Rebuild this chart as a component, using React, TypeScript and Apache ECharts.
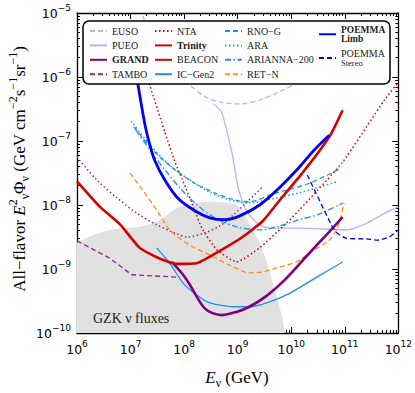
import React, { useEffect, useRef } from "react";
import * as echarts from "echarts";

const MINUS = "\u2212";

// All values are log10 readings from the picture.
// E in GeV, flux E^2 Phi in GeV cm^-2 s^-1 sr^-1
const gzkLogE = [6.0, 6.3, 6.61, 7.25, 7.55, 7.86, 8.11, 8.48, 8.98, 9.09, 9.26, 9.41, 9.56, 9.71, 9.82, 9.89];
const gzkLogF = [-8.59, -8.47, -8.39, -8.33, -8.23, -8.05, -7.98, -7.95, -8.0, -8.11, -8.36, -8.59, -8.94, -9.38, -9.72, -10.0];

const eusoLogE = [7.17, 7.36, 7.64, 8.05, 8.38, 8.66, 9.04, 9.41, 9.78, 10.06, 10.34, 10.53];
const eusoLogF = [-4.8, -5.42, -5.81, -6.09, -6.3, -6.39, -6.42, -6.36, -6.23, -6.11, -5.92, -5.73];

const pueoLogE = [8.55, 8.7, 8.89, 9.0, 9.09, 9.22, 9.41, 9.6, 10.15, 10.77, 11.05, 11.37, 11.74, 12.0];
const pueoLogF = [-6.42, -6.55, -7.17, -7.69, -7.95, -8.16, -8.31, -8.36, -8.36, -8.38, -8.39, -8.3, -8.13, -8.03];

const grandLogE = [7.77, 7.98, 8.11, 8.24, 8.38, 8.53, 8.7, 8.98, 9.22, 9.54, 9.88, 10.34, 10.71, 10.96];
const grandLogF = [-8.89, -9.09, -9.25, -9.44, -9.61, -9.69, -9.72, -9.67, -9.59, -9.42, -9.17, -8.75, -8.42, -8.19];

const tamboLogE = [6.0, 6.61, 7.02, 7.92];
const tamboLogF = [-8.56, -8.83, -9.09, -9.13];

const tamboDotLogE = [6.0, 6.37, 6.75, 7.12, 7.49, 7.86, 8.07, 8.37, 8.66, 8.94, 9.45];
const tamboDotLogF = [-7.25, -7.61, -7.89, -8.13, -8.31, -8.45, -8.5, -8.44, -8.33, -8.14, -7.73];

const ntaLogE = [7.25, 7.36, 7.64, 7.83, 8.01, 8.16, 8.33, 8.61, 8.98, 9.41, 9.84, 10.15, 10.96, 11.74, 12.0];
const ntaLogF = [-5.8, -6.13, -6.86, -7.33, -7.69, -8.0, -8.36, -8.7, -8.89, -8.67, -8.34, -8.08, -7.33, -6.36, -6.08];

const trinityLogE = [6.0, 6.43, 6.8, 7.17, 7.55, 7.86, 8.24, 8.66, 9.09, 9.47, 9.78, 10.15, 10.47, 10.75, 10.96];
const trinityLogF = [-7.63, -8.03, -8.3, -8.67, -8.84, -8.92, -8.91, -8.72, -8.5, -8.25, -7.93, -7.56, -7.22, -6.88, -6.52];

const beaconLogE: number[] = [];
const beaconLogF: number[] = [];

const icgen2LogE = [7.49, 7.73, 7.98, 8.24, 8.48, 8.91, 9.22, 9.54, 9.97, 10.47, 10.96];
const icgen2LogF = [-8.67, -8.91, -9.22, -9.41, -9.53, -9.59, -9.59, -9.53, -9.38, -9.13, -8.89];

const rnogLogE = [7.06, 7.45, 7.83, 8.2, 8.57, 8.94, 9.22, 9.65, 10.34, 10.94];
const rnogLogF = [-6.78, -7.17, -7.45, -7.66, -7.81, -7.92, -7.95, -7.83, -7.66, -7.42];

const araLogE = [7.01, 7.36, 7.73, 8.11, 8.48, 8.85, 9.22, 9.6, 10.15, 10.84];
const araLogF = [-6.69, -7.06, -7.38, -7.61, -7.8, -7.92, -7.97, -7.91, -7.81, -7.64];

const ariannaLogE = [7.1, 7.36, 7.64, 7.92, 8.2, 8.57, 8.98, 9.41, 9.78, 10.15, 10.53, 10.96];
const ariannaLogF = [-6.83, -7.14, -7.45, -7.73, -7.97, -8.2, -8.34, -8.39, -8.33, -8.23, -8.14, -7.97];

const retnLogE = [6.99, 7.23, 7.49, 7.73, 8.11, 8.48, 8.85, 9.22, 9.45, 9.78, 10.1, 10.34, 10.71, 10.86, 10.99];
const retnLogF = [-7.5, -7.77, -8.08, -8.39, -8.63, -8.78, -8.94, -9.06, -9.05, -8.97, -8.89, -8.75, -8.55, -8.36, -7.97];

const limbLogE = [7.04, 7.14, 7.27, 7.36, 7.45, 7.64, 7.88, 8.2, 8.48, 8.76, 9.04, 9.41, 9.78, 10.15, 10.43, 10.71];
const limbLogF = [-5.66, -6.13, -6.75, -7.06, -7.3, -7.61, -7.89, -8.09, -8.2, -8.23, -8.17, -8.0, -7.73, -7.41, -7.14, -6.91];

const stereoLogE = [10.3, 10.75, 10.86, 11.03, 11.4, 11.61, 11.83, 12.0];
const stereoLogF = [-7.53, -8.31, -8.44, -8.52, -8.53, -8.55, -8.5, -8.39];

// axis ticks (decade exponents)
const xDecades = [6, 7, 8, 9, 10, 11, 12];
const yDecades = [-10, -9, -8, -7, -6, -5];
const minorMultipliers = [2, 3, 4, 5, 6, 7, 8, 9];

const pts = (le: number[], lf: number[]) => le.map((e, i) => [Math.pow(10, e), Math.pow(10, lf[i])]);

const majorX = xDecades.map((d) => Math.pow(10, d));
const minorX = xDecades.slice(0, -1).flatMap((d) => minorMultipliers.map((m) => m * Math.pow(10, d)));
const majorY = yDecades.map((d) => Math.pow(10, d));
const minorY = yDecades.slice(0, -1).flatMap((d) => minorMultipliers.map((m) => m * Math.pow(10, d)));

const SERIF = "Liberation Serif";
const SANS = "DejaVu Sans";

const expFormatter = (v: number) => {
  const p = Math.round(Math.log10(v));
  return "{b|10}{e|" + (p < 0 ? MINUS + -p : String(p)) + "}";
};
const tickRich = {
  b: { fontFamily: SANS, fontSize: 12.5, color: "#000", lineHeight: 20 },
  e: { fontFamily: SANS, fontSize: 9, color: "#000", lineHeight: 8, verticalAlign: "top" },
};

function makeAxis(dim: "x" | "y", pos: string, major: boolean, labels: boolean) {
  const isX = dim === "x";
  return {
    type: "log",
    logBase: 10,
    min: isX ? 1e6 : 1e-10,
    max: isX ? 1e12 : 1e-5,
    position: pos,
    gridIndex: 0,
    silent: true,
    axisLine: { show: major, onZero: false, lineStyle: { color: "#000", width: 1.3 } },
    axisTick: {
      show: true,
      inside: true,
      length: major ? 6 : 3,
      customValues: major ? (isX ? majorX : majorY) : isX ? minorX : minorY,
      lineStyle: { color: "#000", width: 1 },
    },
    axisLabel: labels
      ? {
          show: true,
          customValues: isX ? majorX : majorY,
          formatter: expFormatter,
          rich: tickRich,
          margin: 6,
        }
      : { show: false },
    splitLine: { show: false },
    minorTick: { show: false },
    minorSplitLine: { show: false },
    axisPointer: { show: false },
  };
}

type Dash = "solid" | number[];
function line(name: string, data: number[][], color: string, width: number, type: Dash, smooth: number | boolean = false, z = 2) {
  return {
    type: "line",
    name,
    data,
    xAxisIndex: 0,
    yAxisIndex: 0,
    symbol: "none",
    showSymbol: false,
    smooth,
    silent: true,
    z,
    itemStyle: { color },
    lineStyle: { color, width, type, cap: "butt" },
  };
}

const LAV = "#b3b3fb";
const PUR = "#800080";
const PUR2 = "#902a90";
const RED = "#d40000";
const DB = "#1e8ff0";
const ORA = "#ff8c1a";
const BLUE = "#0000f5";

const DASH = [5, 3];
const DOT = [1.5, 2.5];
const DASHDOT = [6, 2.5, 1.5, 2.5];

export default function App() {
  const ref = useRef<HTMLDivElement>(null);
  useEffect(() => {
    if (!ref.current) return;
    const chart = echarts.init(ref.current, undefined, { renderer: "svg" });
    const legendBase = {
      orient: "vertical",
      selectedMode: false,
      padding: 0,
      itemWidth: 17,
      itemHeight: 10,
      itemGap: 4.4,
      z: 20,
      itemStyle: { opacity: 0 },
      textStyle: { fontFamily: SERIF, fontSize: 10, color: "#222", lineHeight: 10 },
    };
    const option: any = {
      animation: false,
      backgroundColor: "#fff",
      grid: { left: 77, top: 13, width: 322, height: 320, containLabel: false },
      xAxis: [
        makeAxis("x", "bottom", true, true),
        makeAxis("x", "bottom", false, false),
        makeAxis("x", "top", true, false),
        makeAxis("x", "top", false, false),
      ],
      yAxis: [
        makeAxis("y", "left", true, true),
        makeAxis("y", "left", false, false),
        makeAxis("y", "right", true, false),
        makeAxis("y", "right", false, false),
      ],
      legend: [
        {
          ...legendBase,
          left: 89,
          top: 26,
          data: ["EUSO", "PUEO", { name: "GRAND", textStyle: { fontWeight: "bold" } }, "TAMBO"],
        },
        {
          ...legendBase,
          left: 154,
          top: 26,
          data: ["NTA", { name: "Trinity", textStyle: { fontWeight: "bold" } }, "BEACON", "IC" + MINUS + "Gen2"],
        },
        {
          ...legendBase,
          left: 224,
          top: 26,
          data: ["RNO" + MINUS + "G", "ARA", "ARIANNA" + MINUS + "200", "RET" + MINUS + "N"],
        },
        {
          ...legendBase,
          left: 318,
          top: 24.5,
          data: ["POEMMA Limb"],
          formatter: () => "POEMMA\nLimb",
          textStyle: { fontFamily: SERIF, fontSize: 9.5, color: "#222", fontWeight: "bold", lineHeight: 9.5 },
        },
        {
          ...legendBase,
          left: 318,
          top: 48.5,
          data: ["POEMMA Stereo"],
          formatter: () => "{a|POEMMA}\n{s|Stereo}",
          textStyle: {
            fontFamily: SERIF,
            color: "#222",
            rich: {
              a: { fontFamily: SERIF, fontSize: 10, lineHeight: 9.5, color: "#222" },
              s: { fontFamily: SERIF, fontSize: 8.5, lineHeight: 9, color: "#222" },
            },
          },
        },
      ],
      graphic: {
        elements: [
          {
            type: "rect",
            z: 15,
            shape: { x: 83, y: 21, width: 307, height: 63, r: 6 },
            style: { fill: "#fff", stroke: "#000", lineWidth: 1.5 },
          },
          {
            type: "text",
            z: 15,
            x: 93,
            y: 318,
            style: {
              text: "GZK \u03bd fluxes",
              fontFamily: SERIF,
              fontSize: 14,
              fill: "#222",
              align: "left",
              verticalAlign: "middle",
            },
          },
          {
            type: "text",
            z: 15,
            x: 237,
            y: 377,
            style: {
              text: "{i|E}{sub|\u03bd}{n| (GeV)}",
              align: "center",
              verticalAlign: "middle",
              rich: {
                n: { fontFamily: SERIF, fontSize: 17, lineHeight: 24, color: "#000" },
                i: { fontFamily: SERIF, fontSize: 17, fontStyle: "italic", lineHeight: 24, color: "#000" },
                sub: { fontFamily: SERIF, fontSize: 12, lineHeight: 12, verticalAlign: "bottom", color: "#000" },
              },
            },
          },
          {
            type: "text",
            z: 15,
            x: 19,
            y: 169,
            rotation: Math.PI / 2,
            style: {
              text:
                "{n|All" + MINUS + "flavor }{i|E}{sup|2}{sub|\u03bd}{n|\u03a6}{sub|\u03bd}{n| (GeV cm}{sup|" + MINUS + "2}{n|s}{sup|" + MINUS + "1}{n|sr}{sup|" + MINUS + "1}{n|)}",
              align: "center",
              verticalAlign: "middle",
              rich: {
                n: { fontFamily: SERIF, fontSize: 17, lineHeight: 24, color: "#000" },
                i: { fontFamily: SERIF, fontSize: 17, fontStyle: "italic", lineHeight: 24, color: "#000" },
                sup: { fontFamily: SERIF, fontSize: 12, lineHeight: 12, verticalAlign: "top", color: "#000" },
                sub: { fontFamily: SERIF, fontSize: 12, lineHeight: 12, verticalAlign: "bottom", color: "#000" },
              },
            },
          },
        ],
      },
      series: [
        {
          type: "line",
          name: "GZK",
          data: pts(gzkLogE, gzkLogF),
          xAxisIndex: 0,
          yAxisIndex: 0,
          symbol: "none",
          smooth: 0.3,
          silent: true,
          z: 1,
          lineStyle: { width: 0, color: "#e1e1e1" },
          itemStyle: { color: "#e1e1e1" },
          areaStyle: { color: "#e1e1e1", opacity: 1, origin: "start" },
        },
        line("EUSO", pts(eusoLogE, eusoLogF), LAV, 1.3, DASH, 0.3),
        line("PUEO", pts(pueoLogE, pueoLogF), LAV, 1.3, "solid", 0.2),
        line("TAMBO", pts(tamboLogE, tamboLogF), PUR2, 1.3, DASH),
        line("TAMBO dotted", pts(tamboDotLogE, tamboDotLogF), PUR2, 1.5, DOT, 0.3),
        line("NTA", pts(ntaLogE, ntaLogF), RED, 1.5, DOT, 0.15),
        line("BEACON", pts(beaconLogE, beaconLogF), RED, 1.3, "solid"),
        line("IC" + MINUS + "Gen2", pts(icgen2LogE, icgen2LogF), DB, 1.3, "solid", 0.2),
        line("RNO" + MINUS + "G", pts(rnogLogE, rnogLogF), DB, 1.3, DASH, 0.3),
        line("ARA", pts(araLogE, araLogF), DB, 1.5, DOT, 0.3),
        line("ARIANNA" + MINUS + "200", pts(ariannaLogE, ariannaLogF), DB, 1.3, DASHDOT, 0.3),
        line("RET" + MINUS + "N", pts(retnLogE, retnLogF), ORA, 1.3, DASH, 0.25),
        line("GRAND", pts(grandLogE, grandLogF), PUR, 2.6, "solid", 0.3),
        line("Trinity", pts(trinityLogE, trinityLogF), RED, 2.6, "solid", 0.15),
        line("POEMMA Limb", pts(limbLogE, limbLogF), BLUE, 2.8, "solid", 0.3),
        line("POEMMA Stereo", pts(stereoLogE, stereoLogF), BLUE, 1.3, DASH, 0.2),
      ],
    };
    chart.setOption(option);
    return () => chart.dispose();
  }, []);
  return (
    <div
      ref={ref}
      style={{ position: "fixed", left: 0, top: 0, width: 415, height: 393, background: "#fff" }}
    />
  );
}
